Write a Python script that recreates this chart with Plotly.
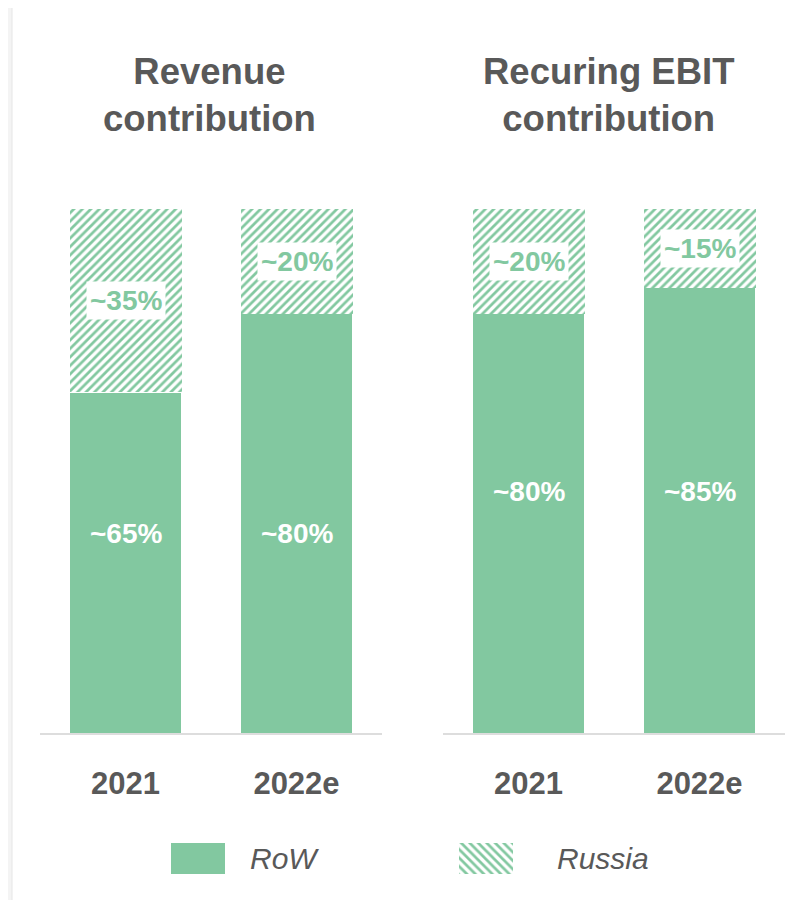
import plotly.graph_objects as go

# data
years = ["2021", "2022e"]
revenue_row = [65, 80]
revenue_russia = [35, 20]
ebit_row = [80, 85]
ebit_russia = [20, 15]
legend_names = ["RoW", "Russia"]

GREEN = "#82C8A0"
GREY = "#595959"
FONT = "Liberation Sans, Arial, sans-serif"
# page body has an 8px margin, so the figure is a bit smaller than the window
OFF = 8
W, H = 806 - 2 * OFF, 908 - 2 * OFF


def px_x(p):
    return (p - OFF) / W


def px_y(p):
    return 1 - (p - OFF) / H


def hatch(shape):
    return dict(shape=shape, fgcolor=GREEN, bgcolor="white", fgopacity=1,
                fillmode="replace", size=6, solidity=0.45)


fig = go.Figure()

panels = [
    ("x", "y", revenue_row, revenue_russia, 38),
    ("x2", "y2", ebit_row, ebit_russia, 46),
]
for xa, ya, row, russia, row_label_y in panels:
    fig.add_trace(go.Bar(
        x=years, y=row, xaxis=xa, yaxis=ya, width=0.655,
        marker=dict(color=GREEN, line=dict(width=1, color="white")),
        hoverinfo="skip",
    ))
    fig.add_trace(go.Bar(
        x=years, y=russia, xaxis=xa, yaxis=ya, width=0.655,
        marker=dict(color="white", pattern=hatch("/"), line=dict(width=0)),
        hoverinfo="skip",
    ))
    for i in range(len(years)):
        fig.add_annotation(
            xref=xa, yref=ya, x=i, y=row_label_y, text=f"<b>~{row[i]}%</b>",
            showarrow=False, font=dict(family=FONT, size=28, color="white"),
        )
        fig.add_annotation(
            xref=xa, yref=ya, x=i, y=row[i] + russia[i] / 2,
            text=f"<b>~{russia[i]}%</b>", showarrow=False,
            font=dict(family=FONT, size=28, color=GREEN),
            bgcolor="white", borderpad=3,
        )

# custom legend drawn as a small hidden subplot
legend_markers = [
    dict(color=GREEN, line=dict(width=0)),
    dict(color="white", pattern=hatch("\\"), line=dict(width=0)),
]
for name, mk in zip(legend_names, legend_markers):
    fig.add_trace(go.Bar(
        x=[name], y=[1], xaxis="x3", yaxis="y3", width=0.1875,
        marker=mk, hoverinfo="skip",
    ))
for i, (name, shift) in enumerate(zip(legend_names, [50, 69])):
    fig.add_annotation(
        xref="x3", yref="y3", x=i, y=0.5, xanchor="left", xshift=shift,
        text=f"<i>{name}</i>", showarrow=False,
        font=dict(family=FONT, size=30, color=GREY),
    )

# panel titles
for xc, txt in [(209, "Revenue<br>contribution"), (608, "Recuring EBIT<br>contribution")]:
    fig.add_annotation(
        xref="paper", yref="paper", x=px_x(xc), y=px_y(95),
        xanchor="center", yanchor="middle", text=f"<b>{txt}</b>",
        showarrow=False, font=dict(family=FONT, size=36.5, color=GREY),
    )

xcommon = dict(
    type="category", range=[-0.5, 1.5], showline=True, linecolor="#DDDDDD",
    linewidth=2, ticks="", showgrid=False, zeroline=False, fixedrange=True,
    tickfont=dict(family=FONT, size=31, color=GREY, weight="bold"),
    ticklabelstandoff=22,
)
ycommon = dict(
    range=[0, 100], domain=[px_y(733), px_y(209)], visible=False,
    showgrid=False, zeroline=False, fixedrange=True,
)

fig.update_layout(
    width=W, height=H,
    margin=dict(l=0, r=0, t=0, b=0),
    paper_bgcolor="white", plot_bgcolor="white",
    barmode="stack", showlegend=False,
    xaxis=dict(xcommon, domain=[px_x(40), px_x(382)], anchor="y"),
    yaxis=dict(ycommon, anchor="x"),
    xaxis2=dict(xcommon, domain=[px_x(443), px_x(785)], anchor="y2"),
    yaxis2=dict(ycommon, anchor="x2"),
    xaxis3=dict(type="category", range=[-0.5, 1.5], domain=[px_x(54), px_x(630)],
                anchor="y3", visible=False, fixedrange=True),
    yaxis3=dict(range=[0, 1], domain=[px_y(874), px_y(843)], anchor="x3",
                visible=False, fixedrange=True),
    shapes=[
        dict(type="rect", xref="paper", yref="paper", x0=0, x1=px_x(12), y0=0, y1=1,
             fillcolor="#F4F4F4", line=dict(width=0), layer="below"),
        dict(type="line", xref="paper", yref="paper", x0=px_x(12), x1=px_x(12), y0=0, y1=1,
             line=dict(color="#E6E6E6", width=1)),
    ],
)

fig.write_html("out.html")
